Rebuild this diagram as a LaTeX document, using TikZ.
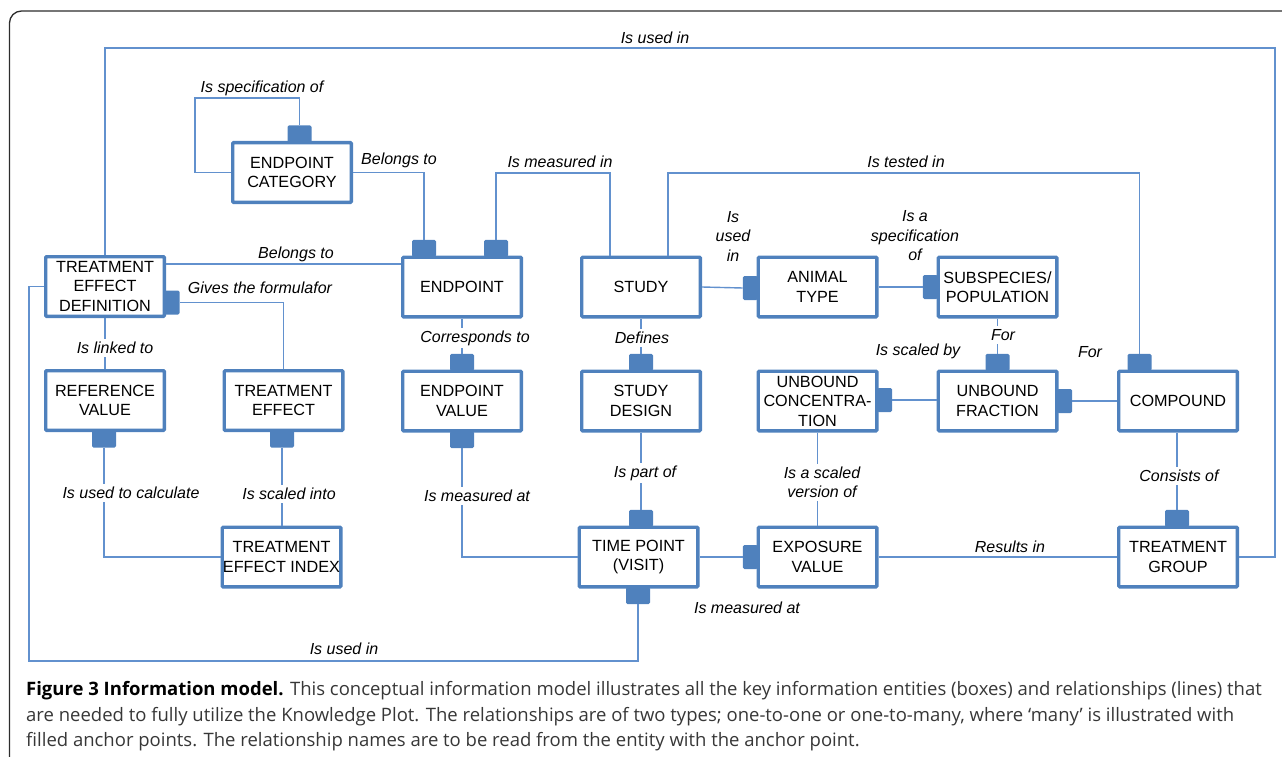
\documentclass[tikz,border=0pt]{standalone}
\usepackage{fontspec}
\setmainfont{Liberation Sans}
\newfontfamily\capfont{Open Sans}
\usetikzlibrary{calc}
\definecolor{boxblue}{RGB}{79,129,189}
\definecolor{lnblue}{RGB}{98,145,206}
\definecolor{framegray}{RGB}{45,45,45}
\definecolor{captext}{RGB}{55,55,55}
\tikzset{
  ent/.style={draw=boxblue, line width=3.4, fill=white, minimum width=118.6, minimum height=59.6,
    align=center, font=\fontsize{16.2}{19.5}\selectfont, inner sep=0, rounded corners=1},
  ank/.style={fill=boxblue, inner sep=0, rounded corners=1.5},
  ankv/.style={ank, minimum width=24, minimum height=17},
  ankh/.style={ank, minimum width=15, minimum height=24},
  conn/.style={draw=lnblue, line width=1.4},
  lbl/.style={font=\fontsize{16}{19.5}\selectfont\itshape, align=center, inner sep=1},
  lblw/.style={lbl, fill=white, inner ysep=3},
  capline/.style={font=\capfont\fontsize{18.5}{20}\selectfont, text=captext, inner sep=0, anchor=base west},
}
\begin{document}
\begin{tikzpicture}[x=1pt,y=-1pt]
\useasboundingbox (0,0) rectangle (1282,757);
\clip (0,0) rectangle (1282,757);
\draw[framegray, line width=1.3, rounded corners=12] (9.5,11) rectangle (1300,785);

% entities
\node[ent] (ec) at (292,172.5) {ENDPOINT\\CATEGORY};
\node[ent] (ted) at (105,286.5) {TREATMENT\\EFFECT\\DEFINITION};
\node[ent] (ep) at (462,287) {ENDPOINT};
\node[ent] (st) at (641,287) {STUDY};
\node[ent] (at) at (817.5,287) {ANIMAL\\TYPE};
\node[ent] (sp) at (997.5,287) {SUBSPECIES/\\POPULATION};
\node[ent] (rv) at (105,400.5) {REFERENCE\\VALUE};
\node[ent] (te) at (283.5,400.5) {TREATMENT\\EFFECT};
\node[ent] (ev) at (462,401) {ENDPOINT\\VALUE};
\node[ent] (sd) at (641,401) {STUDY\\DESIGN};
\node[ent] (uc) at (817.5,401) {UNBOUND\\CONCENTRA-\\TION};
\node[ent] (uf) at (997.5,401) {UNBOUND\\FRACTION};
\node[ent] (cp) at (1178,401) {COMPOUND};
\node[ent] (tei) at (281.5,557) {TREATMENT\\EFFECT INDEX};
\node[ent] (tp) at (638.5,557) {TIME POINT\\(VISIT)};
\node[ent] (ex) at (817.5,557) {EXPOSURE\\VALUE};
\node[ent] (tg) at (1178,557) {TREATMENT\\GROUP};

% anchor points
\node[ankv, anchor=south] (ec-a) at ([xshift=7.5,yshift=-1.5]ec.north) {};
\node[ankv, anchor=south] (ep-a1) at ([xshift=-38,yshift=-1.5]ep.north) {};
\node[ankv, anchor=south] (ep-a2) at ([xshift=34,yshift=-1.5]ep.north) {};
\node[ankv, anchor=south] (ev-a) at ([yshift=-1.5]ev.north) {};
\node[ankv, anchor=north] (ev-b) at ([yshift=1.5]ev.south) {};
\node[ankv, anchor=south] (sd-a) at ([yshift=-1.5]sd.north) {};
\node[ankv, anchor=south] (uf-a) at ([yshift=-1.5]uf.north) {};
\node[ankv, anchor=south] (cp-a) at ([xshift=-38.5,yshift=-1.5]cp.north) {};
\node[ankv, anchor=south] (tg-a) at ([xshift=-1,yshift=-1.5]tg.north) {};
\node[ankv, anchor=south] (tp-a) at ([xshift=2.5,yshift=-1.5]tp.north) {};
\node[ankv, anchor=north] (tp-b) at ([xshift=-0.5,yshift=1.5]tp.south) {};
\node[ankv, anchor=north] (rv-b) at ([xshift=-1,yshift=1.5]rv.south) {};
\node[ankv, anchor=north] (te-b) at ([xshift=-1.5,yshift=1.5]te.south) {};
\node[ankh, anchor=east] (at-a) at ([xshift=1.5,yshift=-1]at.west) {};
\node[ankh, anchor=east] (sp-a) at ([xshift=1.5]sp.west) {};
\node[ankh, anchor=east] (ex-a) at ([xshift=1.5]ex.west) {};
\node[ankh, anchor=west] (uc-b) at ([xshift=-1.5,yshift=1]uc.east) {};
\node[ankh, anchor=west] (uf-b) at ([xshift=-1.5]uf.east) {};
\node[ankh, anchor=west] (ted-b) at ([xshift=-1.5,yshift=-16]ted.east) {};

% helper coordinates
\coordinate (c1) at (195,98);
\coordinate (mi) at (610,173);
\coordinate (ti) at (668,173);
\coordinate (r1) at (1275,48);
\coordinate (b1) at (29,661);

% connectors
\draw[conn] (ec-a.north) |- (c1) |- (ec.west);
\draw[conn] (ec.east) -| (ep-a1.north);
\draw[conn] (ep-a2.north) |- (mi) -- (mi |- st.north);
\draw[conn] (ti |- st.north) -- (ti) -| (cp-a.north);
\draw[conn] (st.east) -- (at-a.west);
\draw[conn] (at.east) -- (sp-a.west);
\draw[conn] (sp.south) -- (uf-a.north);
\draw[conn] (uc-b.east) -- (uc-b.east -| uf.west);
\draw[conn] (uf-b.east) -- (uf-b.east -| cp.west);
\draw[conn] (tg-a.north |- cp.south) -- (tg-a.north);
\draw[conn] (tg.east) -| (r1) -| (ted.north);
\draw[conn] ([yshift=22.5]ted.east) -- ([yshift=22.5]ted.east -| ep.west);
\draw[conn] (ted-b.east) -| (te.north);
\draw[conn] (ted.south) -- (rv.north);
\draw[conn] (rv-b.south) |- (tei.west);
\draw[conn] (te-b.south) -- (te-b.south |- tei.north);
\draw[conn] (ep.south) -- (ev-a.north);
\draw[conn] (st.south) -- (sd-a.north);
\draw[conn] (ev-b.south) |- (tp.west);
\draw[conn] (tp-a.north |- sd.south) -- (tp-a.north);
\draw[conn] (uc.south) -- (ex.north);
\draw[conn] (tp.east) -- (ex-a.west);
\draw[conn] (ex.east) -- (tg.west);
\draw[conn] (ted.west) -| (b1) -| (tp-b.south);

% labels
\node[lbl] (l1) at (262,88) {Is specification of};
\node[lbl] (l2) at (399,160) {Belongs to};
\node[lbl] (l3) at (560,162) {Is measured in};
\node[lbl] (l4) at (906,162) {Is tested in};
\node[lbl] (l5) at (655,38) {Is used in};
\node[lbl] (l6) at (296,254) {Belongs to};
\node[lbl] (l7) at (260,288) {Gives the formulafor};
\node[lbl] (l8) at (733,236) {Is\\used\\in};
\node[lbl] (l9) at (915,236) {Is a\\specification\\of};
\node[lblw] (l10) at (115,348) {Is linked to};
\node[lblw] (l11) at (475,338) {Corresponds to};
\node[lblw] (l12) at (642,338) {Defines};
\node[lblw] (l13) at (1003,335) {For};
\node[lbl] (l14) at (918,351) {Is scaled by};
\node[lbl] (l15) at (1090,352) {For};
\node[lblw] (l16) at (131,493) {Is used to calculate};
\node[lblw] (l17) at (289,494) {Is scaled into};
\node[lblw] (l18) at (477,496) {Is measured at};
\node[lblw] (l19) at (645,473) {Is part of};
\node[lblw] (l20) at (822,482.5) {Is a scaled\\version of};
\node[lblw] (l21) at (1179,476) {Consists of};
\node[lbl] (l22) at (1010,547) {Results in};
\node[lbl] (l23) at (747,608) {Is measured at};
\node[lbl] (l24) at (344,649) {Is used in};

% caption
\node[capline] (cap1) at (26,695) {{\color{black}\bfseries Figure 3 Information model.} This conceptual information model illustrates all the key information entities (boxes) and relationships (lines) that};
\node[capline] (cap2) at (26,721) {are needed to fully utilize the Knowledge Plot. The relationships are of two types; one-to-one or one-to-many, where ‘many’ is illustrated with};
\node[capline] (cap3) at (26,746) {filled anchor points. The relationship names are to be read from the entity with the anchor point.};
\end{tikzpicture}
\end{document}
